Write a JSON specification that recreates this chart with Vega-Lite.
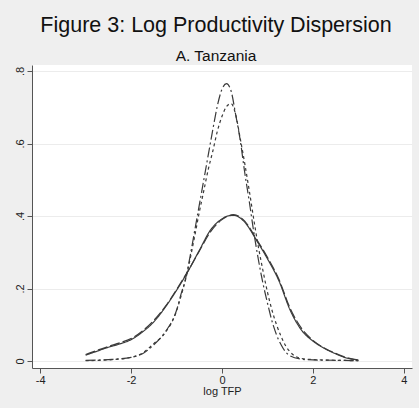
{
  "$schema": "https://vega.github.io/schema/vega-lite/v6.json",
  "width": 380,
  "height": 303,
  "autosize": {"type": "none"},
  "padding": {"left": 32, "top": 65, "right": 7, "bottom": 40},
  "background": "#efefef",
  "config": {
    "font": "Liberation Sans",
    "view": {"fill": "white", "stroke": null}
  },
  "title": {
    "text": "Figure 3: Log Productivity Dispersion",
    "subtitle": "A. Tanzania",
    "fontSize": 21.5,
    "fontWeight": "normal",
    "color": "#111",
    "subtitleFontSize": 15.5,
    "subtitleColor": "#111",
    "subtitlePadding": 12,
    "offset": 1,
    "anchor": "middle",
    "dx": -6
  },
  "data": {
    "values": [
      {"s": "W1", "x": -3.0, "y": 0.016}, {"s": "W1", "x": -2.75, "y": 0.027}, {"s": "W1", "x": -2.5, "y": 0.038}, {"s": "W1", "x": -2.25, "y": 0.047}, {"s": "W1", "x": -2.0, "y": 0.059}, {"s": "W1", "x": -1.75, "y": 0.08}, {"s": "W1", "x": -1.5, "y": 0.108}, {"s": "W1", "x": -1.25, "y": 0.148}, {"s": "W1", "x": -1.0, "y": 0.195}, {"s": "W1", "x": -0.75, "y": 0.247}, {"s": "W1", "x": -0.5, "y": 0.305}, {"s": "W1", "x": -0.25, "y": 0.362}, {"s": "W1", "x": 0.0, "y": 0.392}, {"s": "W1", "x": 0.1, "y": 0.399}, {"s": "W1", "x": 0.25, "y": 0.402}, {"s": "W1", "x": 0.5, "y": 0.383}, {"s": "W1", "x": 0.75, "y": 0.335}, {"s": "W1", "x": 1.0, "y": 0.282}, {"s": "W1", "x": 1.25, "y": 0.222}, {"s": "W1", "x": 1.5, "y": 0.14}, {"s": "W1", "x": 1.75, "y": 0.085}, {"s": "W1", "x": 2.0, "y": 0.055}, {"s": "W1", "x": 2.25, "y": 0.035}, {"s": "W1", "x": 2.5, "y": 0.02}, {"s": "W1", "x": 2.75, "y": 0.008}, {"s": "W1", "x": 3.0, "y": 0.003},
      {"s": "W2", "x": -3.0, "y": 0.018}, {"s": "W2", "x": -2.75, "y": 0.029}, {"s": "W2", "x": -2.5, "y": 0.04}, {"s": "W2", "x": -2.25, "y": 0.05}, {"s": "W2", "x": -2.0, "y": 0.062}, {"s": "W2", "x": -1.75, "y": 0.083}, {"s": "W2", "x": -1.5, "y": 0.112}, {"s": "W2", "x": -1.25, "y": 0.15}, {"s": "W2", "x": -1.0, "y": 0.197}, {"s": "W2", "x": -0.75, "y": 0.248}, {"s": "W2", "x": -0.5, "y": 0.303}, {"s": "W2", "x": -0.25, "y": 0.357}, {"s": "W2", "x": 0.0, "y": 0.39}, {"s": "W2", "x": 0.1, "y": 0.398}, {"s": "W2", "x": 0.25, "y": 0.404}, {"s": "W2", "x": 0.5, "y": 0.386}, {"s": "W2", "x": 0.75, "y": 0.338}, {"s": "W2", "x": 1.0, "y": 0.286}, {"s": "W2", "x": 1.25, "y": 0.226}, {"s": "W2", "x": 1.5, "y": 0.145}, {"s": "W2", "x": 1.75, "y": 0.09}, {"s": "W2", "x": 2.0, "y": 0.057}, {"s": "W2", "x": 2.25, "y": 0.036}, {"s": "W2", "x": 2.5, "y": 0.021}, {"s": "W2", "x": 2.75, "y": 0.009}, {"s": "W2", "x": 3.0, "y": 0.003},
      {"s": "N1", "x": -3.0, "y": 0.002}, {"s": "N1", "x": -2.5, "y": 0.004}, {"s": "N1", "x": -2.0, "y": 0.01}, {"s": "N1", "x": -1.75, "y": 0.02}, {"s": "N1", "x": -1.5, "y": 0.045}, {"s": "N1", "x": -1.25, "y": 0.08}, {"s": "N1", "x": -1.0, "y": 0.14}, {"s": "N1", "x": -0.9, "y": 0.185}, {"s": "N1", "x": -0.8, "y": 0.228}, {"s": "N1", "x": -0.7, "y": 0.29}, {"s": "N1", "x": -0.6, "y": 0.36}, {"s": "N1", "x": -0.5, "y": 0.43}, {"s": "N1", "x": -0.4, "y": 0.5}, {"s": "N1", "x": -0.3, "y": 0.57}, {"s": "N1", "x": -0.2, "y": 0.64}, {"s": "N1", "x": -0.1, "y": 0.705}, {"s": "N1", "x": 0.0, "y": 0.75}, {"s": "N1", "x": 0.1, "y": 0.765}, {"s": "N1", "x": 0.2, "y": 0.745}, {"s": "N1", "x": 0.3, "y": 0.68}, {"s": "N1", "x": 0.4, "y": 0.61}, {"s": "N1", "x": 0.5, "y": 0.52}, {"s": "N1", "x": 0.6, "y": 0.44}, {"s": "N1", "x": 0.7, "y": 0.355}, {"s": "N1", "x": 0.8, "y": 0.28}, {"s": "N1", "x": 0.9, "y": 0.215}, {"s": "N1", "x": 1.0, "y": 0.16}, {"s": "N1", "x": 1.1, "y": 0.11}, {"s": "N1", "x": 1.2, "y": 0.072}, {"s": "N1", "x": 1.3, "y": 0.045}, {"s": "N1", "x": 1.4, "y": 0.025}, {"s": "N1", "x": 1.5, "y": 0.014}, {"s": "N1", "x": 1.75, "y": 0.005}, {"s": "N1", "x": 2.0, "y": 0.003}, {"s": "N1", "x": 2.5, "y": 0.002}, {"s": "N1", "x": 3.0, "y": 0.001},
      {"s": "N2", "x": -3.0, "y": 0.001}, {"s": "N2", "x": -2.5, "y": 0.003}, {"s": "N2", "x": -2.0, "y": 0.01}, {"s": "N2", "x": -1.75, "y": 0.022}, {"s": "N2", "x": -1.5, "y": 0.048}, {"s": "N2", "x": -1.25, "y": 0.078}, {"s": "N2", "x": -1.0, "y": 0.138}, {"s": "N2", "x": -0.9, "y": 0.18}, {"s": "N2", "x": -0.8, "y": 0.225}, {"s": "N2", "x": -0.7, "y": 0.282}, {"s": "N2", "x": -0.6, "y": 0.345}, {"s": "N2", "x": -0.5, "y": 0.41}, {"s": "N2", "x": -0.4, "y": 0.47}, {"s": "N2", "x": -0.3, "y": 0.53}, {"s": "N2", "x": -0.2, "y": 0.58}, {"s": "N2", "x": -0.1, "y": 0.635}, {"s": "N2", "x": 0.0, "y": 0.675}, {"s": "N2", "x": 0.1, "y": 0.702}, {"s": "N2", "x": 0.2, "y": 0.71}, {"s": "N2", "x": 0.3, "y": 0.68}, {"s": "N2", "x": 0.4, "y": 0.615}, {"s": "N2", "x": 0.5, "y": 0.545}, {"s": "N2", "x": 0.6, "y": 0.47}, {"s": "N2", "x": 0.7, "y": 0.39}, {"s": "N2", "x": 0.8, "y": 0.315}, {"s": "N2", "x": 0.9, "y": 0.25}, {"s": "N2", "x": 1.0, "y": 0.19}, {"s": "N2", "x": 1.1, "y": 0.14}, {"s": "N2", "x": 1.2, "y": 0.1}, {"s": "N2", "x": 1.3, "y": 0.068}, {"s": "N2", "x": 1.4, "y": 0.042}, {"s": "N2", "x": 1.5, "y": 0.025}, {"s": "N2", "x": 1.6, "y": 0.014}, {"s": "N2", "x": 1.75, "y": 0.007}, {"s": "N2", "x": 2.0, "y": 0.004}, {"s": "N2", "x": 2.5, "y": 0.002}, {"s": "N2", "x": 3.0, "y": 0.001}
    ]
  },
  "mark": {"type": "line", "color": "#3a3a3a", "strokeWidth": 1.2, "interpolate": "monotone"},
  "encoding": {
    "x": {
      "field": "x", "type": "quantitative",
      "scale": {"domain": [-4.18, 4.18], "nice": false, "zero": false},
      "axis": {
        "title": "log TFP", "values": [-4, -2, 0, 2, 4], "grid": false,
        "labelExpr": "datum.value < 0 ? '-' + abs(datum.value) : '' + datum.value",
        "domainColor": "#555", "tickColor": "#555", "tickSize": 5,
        "labelFontSize": 11, "labelColor": "#222", "labelPadding": 1,
        "titleFontSize": 11, "titleFontWeight": "normal", "titleColor": "#222", "titlePadding": 0
      }
    },
    "y": {
      "field": "y", "type": "quantitative",
      "scale": {"domain": [-0.0193, 0.8166], "nice": false, "zero": false},
      "axis": {
        "title": null, "values": [0, 0.2, 0.4, 0.6, 0.8],
        "labelExpr": "datum.value == 0 ? '0' : replace(format(datum.value, '.1f'), '0.', '.')",
        "grid": true, "gridColor": "#ececec", "gridWidth": 1,
        "domainColor": "#555", "tickColor": "#555", "tickSize": 5,
        "labelAngle": 270, "labelAlign": "center", "labelBaseline": "bottom",
        "labelFontSize": 11, "labelColor": "#222", "labelPadding": 2
      }
    },
    "strokeDash": {
      "field": "s", "type": "nominal",
      "scale": {"domain": ["W1", "W2", "N1", "N2"], "range": [[1, 0], [10, 3], [10, 3, 2, 3], [3, 3]]},
      "legend": null
    }
  }
}
